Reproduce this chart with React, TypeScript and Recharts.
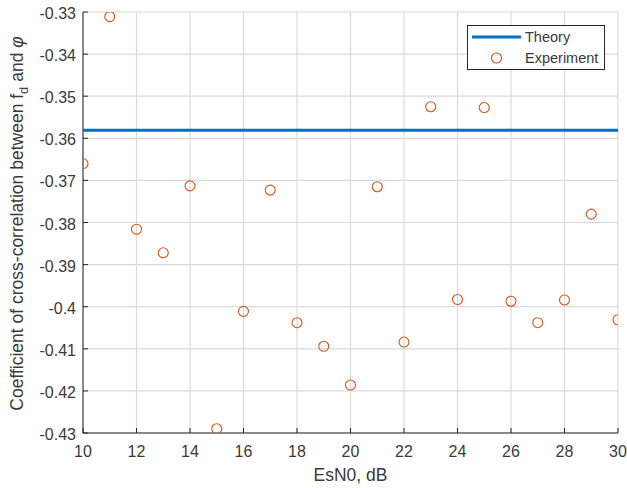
import React from "react";
import { ScatterChart, Scatter, XAxis, YAxis, CartesianGrid, Legend } from "recharts";

const esn0 = [10, 11, 12, 13, 14, 15, 16, 17, 18, 19, 20, 21, 22, 23, 24, 25, 26, 27, 28, 29, 30];
const experiment = [
  -0.366, -0.3311, -0.3816, -0.3872, -0.3713, -0.429, -0.4011, -0.3723, -0.4038, -0.4094, -0.4186,
  -0.3715, -0.4084, -0.3525, -0.3983, -0.3527, -0.3987, -0.4038, -0.3984, -0.378, -0.4031,
];
const theory = -0.3581;
const xTicks = [10, 12, 14, 16, 18, 20, 22, 24, 26, 28, 30];
const yTicks = [-0.43, -0.42, -0.41, -0.4, -0.39, -0.38, -0.37, -0.36, -0.35, -0.34, -0.33];

const expData = esn0.map((x, i) => ({ x, y: experiment[i] }));
const theoryData = [
  { x: esn0[0], y: theory },
  { x: esn0[esn0.length - 1], y: theory },
];

const BLUE = "#0072BD";
const ORANGE = "#D95319";
const AXIS = "#262626";
const TEXT = "#3a3a3a";
const FONT = "'Liberation Sans', Arial, sans-serif";
const TICK = 5;

const fmt = (v: number) => String(Number(v.toFixed(2)));

// MATLAB-style ticks: short marks pointing into the plot box
const BottomTick = (p: any) => (
  <g>
    <line x1={p.x} x2={p.x} y1={p.y} y2={p.y - TICK} stroke={AXIS} />
    <text x={p.x} y={p.y + 23.5} textAnchor="middle" fontSize={16} fill={TEXT} fontFamily={FONT}>
      {p.payload.value}
    </text>
  </g>
);
const TopTick = (p: any) => <line x1={p.x} x2={p.x} y1={p.y} y2={p.y + TICK} stroke={AXIS} />;
const LeftTick = (p: any) => (
  <g>
    <line x1={p.x} x2={p.x + TICK} y1={p.y} y2={p.y} stroke={AXIS} />
    <text x={p.x - 7} y={p.y + 7} textAnchor="end" fontSize={16} fill={TEXT} fontFamily={FONT}>
      {fmt(p.payload.value)}
    </text>
  </g>
);
const RightTick = (p: any) => <line x1={p.x} x2={p.x - TICK} y1={p.y} y2={p.y} stroke={AXIS} />;

const Ring = (p: any) => <circle cx={p.cx} cy={p.cy} r={5} fill="none" stroke={ORANGE} strokeWidth={1.1} />;

const YTitle = ({ viewBox }: any) => {
  const cx = viewBox.x + 23;
  const cy = viewBox.y + viewBox.height / 2 + 1;
  return (
    <text
      x={cx}
      y={cy}
      transform={`rotate(-90 ${cx} ${cy})`}
      textAnchor="middle"
      fontSize={17.5}
      fill={TEXT}
      fontFamily={FONT}
    >
      Coefficient of cross-correlation between f
      <tspan dy={5} fontSize={13}>d</tspan>
      <tspan dy={-5}> and </tspan>
      <tspan fontStyle="italic">φ</tspan>
    </text>
  );
};

const XTitle = ({ viewBox }: any) => (
  <text
    x={viewBox.x + viewBox.width / 2}
    y={viewBox.y + 48}
    textAnchor="middle"
    fontSize={17.5}
    fill={TEXT}
    fontFamily={FONT}
  >
    EsN0, dB
  </text>
);

const LegendBox = () => (
  <div style={{ width: 138, height: 45, position: "relative" }}>
    <svg width={138} height={45} style={{ position: "absolute", left: 0, top: 0 }}>
      <rect x={0.5} y={0.5} width={137} height={44} fill="#fff" stroke={AXIS} />
      <line x1={5} x2={54} y1={12} y2={12} stroke={BLUE} strokeWidth={3} />
      <circle cx={29.5} cy={33} r={5} fill="none" stroke={ORANGE} strokeWidth={1.1} />
      <text x={58} y={17} fontSize={14.5} fill={TEXT} fontFamily={FONT}>Theory</text>
      <text x={58} y={38} fontSize={14.5} fill={TEXT} fontFamily={FONT}>Experiment</text>
    </svg>
  </div>
);

export default function App() {
  return (
    <div style={{ position: "absolute", left: 0, top: 0, background: "#fff" }}>
      <ScatterChart width={627} height={488} margin={{ top: 12, right: 9, bottom: 0, left: 0 }}>
        <CartesianGrid stroke="#dadada" strokeWidth={1.2} />
        <XAxis
          type="number"
          dataKey="x"
          domain={[10, 30]}
          ticks={xTicks}
          height={55}
          tickSize={0}
          tickMargin={0}
          tickLine={false}
          tick={<BottomTick />}
          axisLine={{ stroke: AXIS }}
          label={{ content: <XTitle /> }}
          allowDataOverflow
        />
        <XAxis
          xAxisId="top"
          orientation="top"
          type="number"
          domain={[10, 30]}
          ticks={xTicks}
          height={0}
          tickSize={0}
          tickMargin={0}
          tickLine={false}
          tick={<TopTick />}
          axisLine={{ stroke: AXIS }}
          allowDataOverflow
        />
        <YAxis
          type="number"
          dataKey="y"
          domain={[-0.43, -0.33]}
          ticks={yTicks}
          width={83}
          tickSize={0}
          tickMargin={0}
          tickLine={false}
          tick={<LeftTick />}
          axisLine={{ stroke: AXIS }}
          label={{ content: <YTitle /> }}
          allowDataOverflow
        />
        <YAxis
          yAxisId="right"
          orientation="right"
          type="number"
          domain={[-0.43, -0.33]}
          ticks={yTicks}
          width={0}
          tickSize={0}
          tickMargin={0}
          tickLine={false}
          tick={<RightTick />}
          axisLine={{ stroke: AXIS }}
          allowDataOverflow
        />
        <Legend
          layout="vertical"
          align="center"
          verticalAlign="middle"
          content={<LegendBox />}
          wrapperStyle={{ left: 467, top: 25, width: 138, height: 45 }}
        />
        <Scatter
          name="Theory"
          data={theoryData}
          line={{ stroke: BLUE, strokeWidth: 3 }}
          shape={() => <g />}
          isAnimationActive={false}
        />
        <Scatter name="Experiment" data={expData} shape={<Ring />} isAnimationActive={false} />
      </ScatterChart>
    </div>
  );
}
